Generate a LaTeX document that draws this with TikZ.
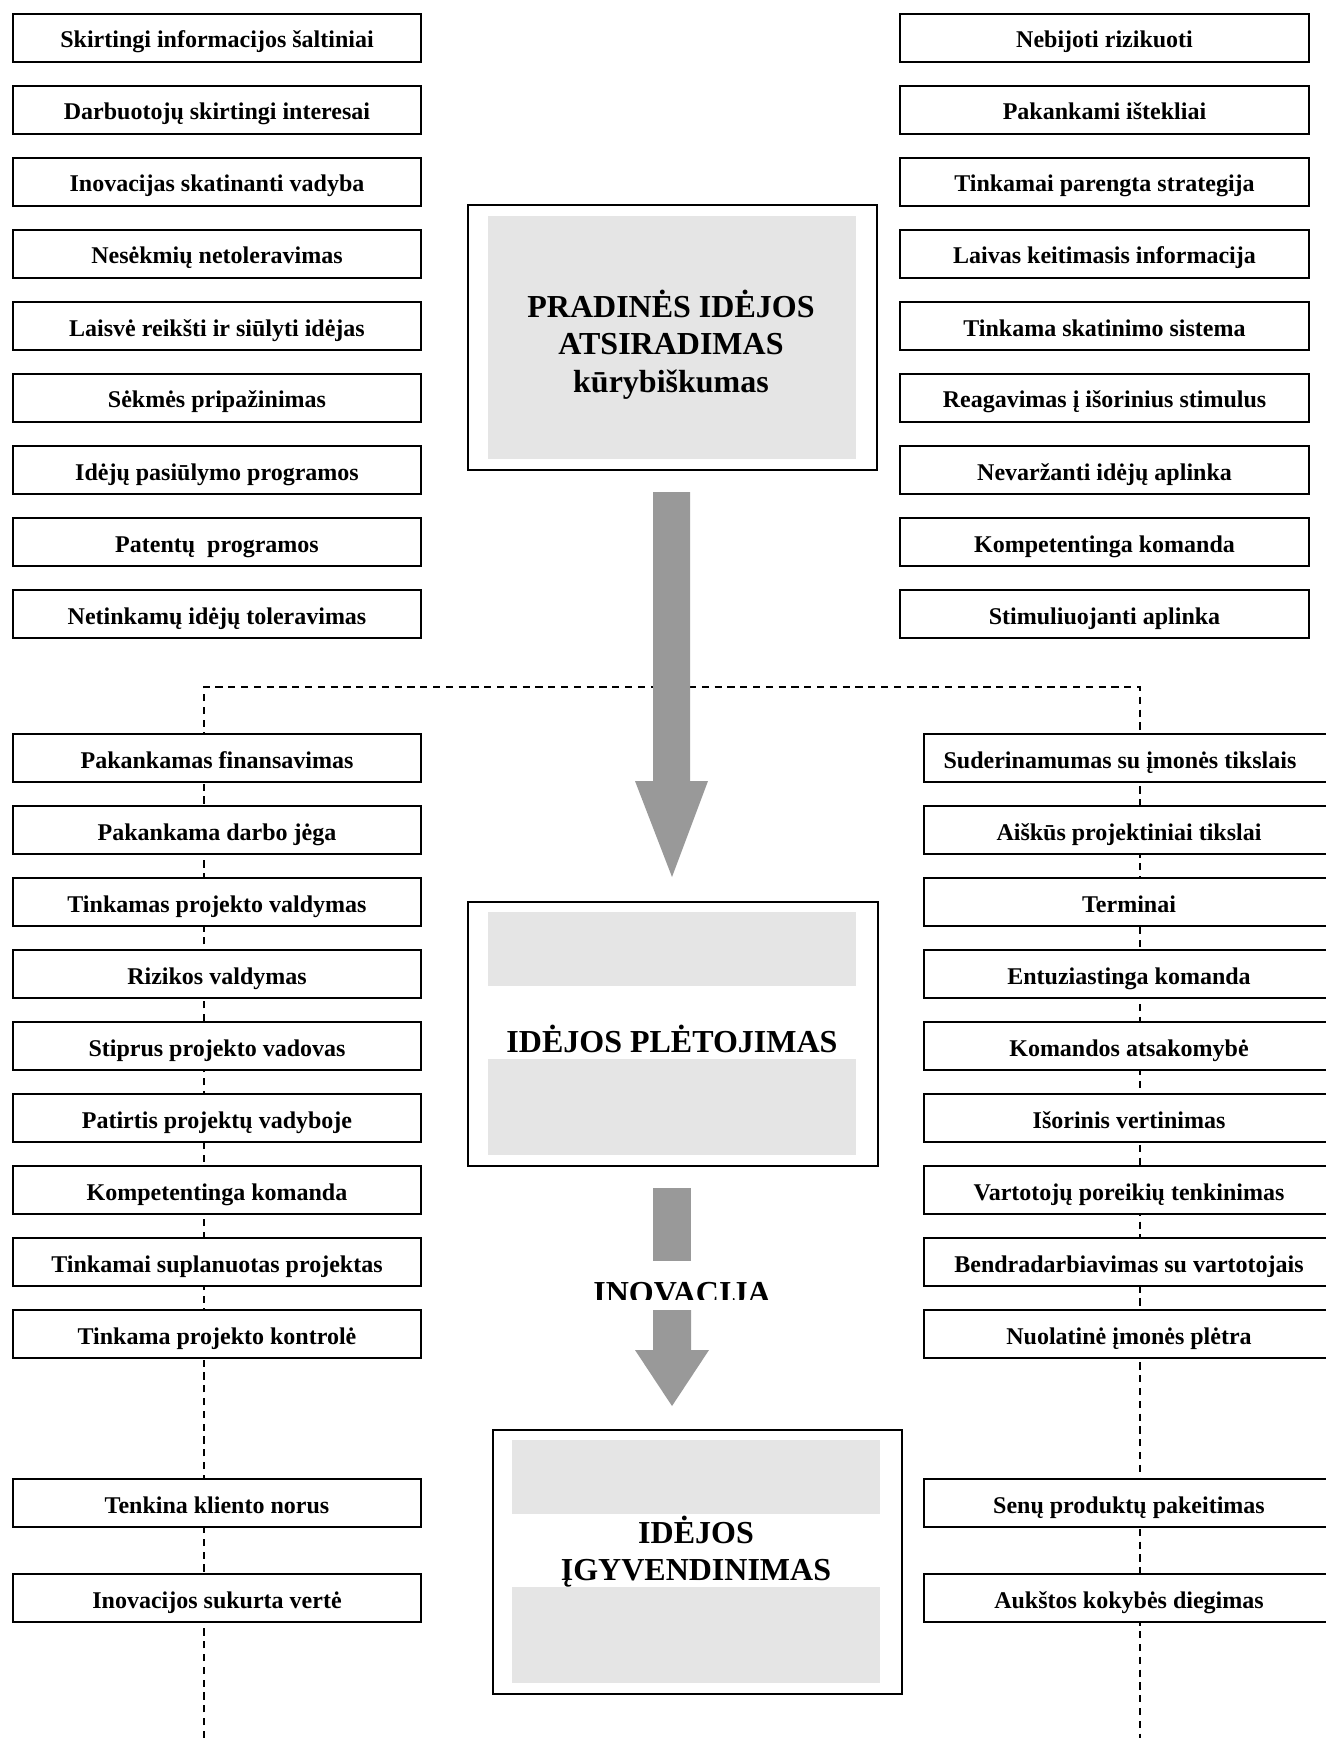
\documentclass[tikz,border=0pt]{standalone}
\usepackage{fontspec}
\setmainfont{Liberation Serif}
\begin{document}
\begin{tikzpicture}[x=0.5pt,y=-0.5pt,
  sbox/.style={draw, line width=1pt, fill=white, minimum height=24pt, inner sep=0pt,
    text height=10pt, text depth=0pt,
    anchor=north west, font=\bfseries\fontsize{12}{14}\selectfont},
  bigbox/.style={draw, line width=1.2pt, fill=white, inner sep=0pt, anchor=north west},
  greyin/.style={fill=black!10},
  bigarrow/.style={fill=black!40},
  dashline/.style={line width=1pt, dash pattern=on 3.6pt off 2.8pt},
  title/.style={anchor=base, inner sep=0pt, font=\bfseries\fontsize{16}{19}\selectfont}
]
\path[use as bounding box, fill=white] (0,0) rectangle (1326,1738);
\clip (0,0) rectangle (1326,1738);

% dashed frame
\coordinate (dtl) at (204,687);
\coordinate (dtr) at (1140,687);
\coordinate (dbl) at (204,1738);
\coordinate (dbr) at (1140,1738);
\draw[dashline] (dbl) -- (dtl) -- (dtr) -- (dbr);

% top left boxes
\foreach \txt [count=\i from 0] in {Skirtingi informacijos šaltiniai,
  Darbuotojų skirtingi interesai, Inovacijas skatinanti vadyba,
  Nesėkmių netoleravimas, Laisvė reikšti ir siūlyti idėjas,
  Sėkmės pripažinimas, Idėjų pasiūlymo programos,
  Patentų\ \ programos, Netinkamų idėjų toleravimas}
  \node[sbox, minimum width=204pt] (L\i) at (12,{13+72*\i}) {\txt};

% top right boxes
\foreach \txt [count=\i from 0] in {Nebijoti rizikuoti, Pakankami ištekliai,
  Tinkamai parengta strategija, Laivas keitimasis informacija,
  Tinkama skatinimo sistema, Reagavimas į išorinius stimulus,
  Nevaržanti idėjų aplinka, Kompetentinga komanda, Stimuliuojanti aplinka}
  \node[sbox, minimum width=204.5pt] (R\i) at (899,{13+72*\i}) {\txt};

% middle left boxes
\foreach \txt [count=\i from 0] in {Pakankamas finansavimas, Pakankama darbo jėga,
  Tinkamas projekto valdymas, Rizikos valdymas, Stiprus projekto vadovas,
  Patirtis projektų vadyboje, Kompetentinga komanda,
  Tinkamai suplanuotas projektas, Tinkama projekto kontrolė}
  \node[sbox, minimum width=204pt] (ML\i) at (12,{733+72*\i}) {\txt};

% middle right boxes
\foreach \txt [count=\i from 0] in {\hspace*{-9pt}Suderinamumas su įmonės tikslais,
  Aiškūs projektiniai tikslai, Terminai, Entuziastinga komanda,
  Komandos atsakomybė, Išorinis vertinimas, Vartotojų poreikių tenkinimas,
  Bendradarbiavimas su vartotojais, Nuolatinė įmonės plėtra}
  \node[sbox, minimum width=205pt] (MR\i) at (923,{733+72*\i}) {\txt};

% bottom boxes
\node[sbox, minimum width=204pt] (BL0) at (12,1478) {Tenkina kliento norus};
\node[sbox, minimum width=204pt] (BL1) at (12,1573) {Inovacijos sukurta vertė};
\node[sbox, minimum width=205pt] (BR0) at (923,1478) {Senų produktų pakeitimas};
\node[sbox, minimum width=205pt] (BR1) at (923,1573) {Aukštos kokybės diegimas};

% big box 1
\node[bigbox, minimum width=204.5pt, minimum height=132.5pt] (B1) at (467,204) {};
\fill[greyin] (488,216) rectangle (856,459);
\node[title] (t1a) at (671,318) {PRADINĖS IDĖJOS};
\node[title] (t1b) at (671,355) {ATSIRADIMAS};
\node[title] (t1c) at (671,392) {kūrybiškumas};

% big box 2
\node[bigbox, minimum width=205pt, minimum height=132pt] (B2) at (467,901) {};
\fill[greyin] (488,912) rectangle (856,986);
\fill[greyin] (488,1059) rectangle (856,1155);
\node[title] (t2) at (672,1052) {IDĖJOS PLĖTOJIMAS};

% big box 3
\node[bigbox, minimum width=204.5pt, minimum height=132pt] (B3) at (492,1429) {};
\fill[greyin] (512,1440) rectangle (880,1514);
\fill[greyin] (512,1587) rectangle (880,1683);
\node[title] (t3a) at (696,1543) {IDĖJOS};
\node[title] (t3b) at (696,1580) {ĮGYVENDINIMAS};

% arrows
\fill[bigarrow] (653,492) -- (690,492) -- (690,781) -- (708,781) -- (672,877)
  -- (635,781) -- (653,781) -- cycle;
\fill[bigarrow] (653,1188) rectangle (691,1261);
\fill[bigarrow] (653,1310) -- (691,1310) -- (691,1350) -- (709,1350) -- (672,1406)
  -- (635,1350) -- (653,1350) -- cycle;

% INOVACIJA label (bottom clipped as in the original)
\begin{scope}
  \clip (540,1260) rectangle (820,1299);
  \node[title] (inov) at (682,1303) {INOVACIJA};
\end{scope}
\end{tikzpicture}
\end{document}
